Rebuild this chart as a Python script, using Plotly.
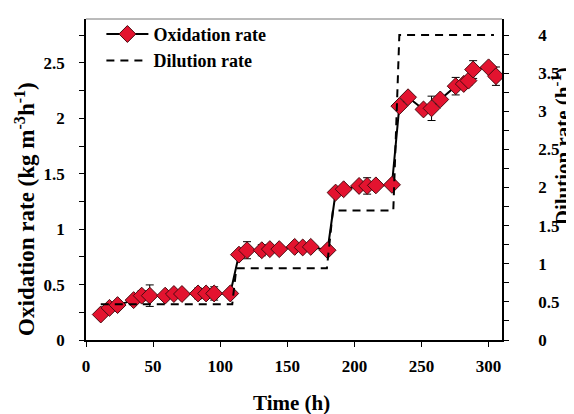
import plotly.graph_objects as go

# Oxidation rate data (kg m-3 h-1)
time_ox = [11, 17.5, 23.5, 35.5, 41.5, 47.5, 59, 65.5, 71.5, 83.5, 89.5, 95.5, 107.5,
           114, 120, 131, 137, 144, 155.5, 161.5, 167.5, 180,
           186, 192, 203.5, 209.5, 216, 228,
           233.5, 240, 251.5, 257.5, 264, 275.5, 281.5, 285, 288.5, 300, 305.5]
oxidation = [0.23, 0.29, 0.315, 0.36, 0.40, 0.40, 0.40, 0.415, 0.415, 0.42, 0.42, 0.42, 0.42,
             0.77, 0.81, 0.81, 0.82, 0.82, 0.84, 0.835, 0.84, 0.81,
             1.33, 1.36, 1.39, 1.39, 1.395, 1.40,
             2.11, 2.19, 2.08, 2.09, 2.17, 2.29, 2.31, 2.34, 2.44, 2.46, 2.38]
oxidation_err = [0.01, 0.035, 0.02, 0.035, 0.045, 0.097, 0.01, 0.01, 0.01, 0.048, 0.04, 0.06, 0.01,
                 0.01, 0.077, 0.05, 0.01, 0.01, 0.01, 0.01, 0.01, 0.01,
                 0.01, 0.01, 0.01, 0.074, 0.01, 0.01,
                 0.01, 0.03, 0.01, 0.11, 0.03, 0.079, 0.01, 0.04, 0.08, 0.01, 0.083]

# Dilution rate (h-1), step profile
time_dil = [11, 109, 112, 179.5, 184, 229, 233.5, 304]
dilution = [0.47, 0.47, 0.94, 0.94, 1.70, 1.70, 4.0, 4.0]

x_ticks = [0, 50, 100, 150, 200, 250, 300]

FONT = "Liberation Serif, Times New Roman, serif"

fig = go.Figure()

fig.add_trace(go.Scatter(
    x=time_dil, y=dilution, yaxis="y2", mode="lines", name="Dilution rate",
    line=dict(color="black", width=2, dash="8px,6px"),
))

fig.add_trace(go.Scatter(
    x=time_ox, y=oxidation, mode="lines+markers", name="Oxidation rate",
    line=dict(color="black", width=2),
    marker=dict(symbol="diamond", size=13, color="#e3132f",
                line=dict(color="#4a0a10", width=1)),
    error_y=dict(type="data", array=oxidation_err, visible=True,
                 color="black", thickness=1, width=4),
))

axis_common = dict(
    showgrid=False, zeroline=False, showline=True, linecolor="black", linewidth=1.5,
    ticks="outside", ticklen=5, tickcolor="black", tickwidth=1.2,
    tickfont=dict(family=FONT, size=17, color="black", weight="bold"),
)

fig.update_layout(
    width=566, height=406,
    margin=dict(l=78, r=72, t=8, b=74),
    paper_bgcolor="white", plot_bgcolor="white",
    font=dict(family=FONT, color="black", weight="bold"),
    showlegend=True,
    legend=dict(
        x=0.037, y=1.01, xanchor="left", yanchor="top",
        traceorder="reversed", itemwidth=42,
        font=dict(family=FONT, size=18, color="black", weight="bold"),
        bgcolor="rgba(0,0,0,0)", tracegroupgap=2,
    ),
    xaxis=dict(range=[0, 310], tickvals=x_ticks, ticklabelstandoff=5, **axis_common),
    yaxis=dict(range=[0, 2.896], dtick=0.5, tick0=0, ticklabelstandoff=11,
               minor=dict(ticks="outside", dtick=0.25, ticklen=5, tickcolor="black"),
               **axis_common),
    yaxis2=dict(range=[0, 4.21], dtick=0.5, tick0=0, overlaying="y", side="right",
                ticklabelstandoff=26,
                minor=dict(ticks="outside", dtick=0.25, ticklen=5, tickcolor="black"),
                **axis_common),
    shapes=[dict(type="line", xref="paper", yref="paper", x0=0, x1=1, y0=1, y1=1,
                 line=dict(color="#777777", width=1))],
    annotations=[
        dict(text="Oxidation rate (kg m<sup>-3</sup>h<sup>-1</sup>)", xref="paper", yref="paper",
             x=-0.147, y=0.408, textangle=-90, showarrow=False, xanchor="center", yanchor="middle",
             font=dict(family=FONT, size=23, color="black", weight="bold")),
        dict(text="Dilution rate (h<sup>-1</sup>)", xref="paper", yref="paper",
             x=1.143, y=0.605, textangle=-90, showarrow=False, xanchor="center", yanchor="middle",
             font=dict(family=FONT, size=21, color="black", weight="bold")),
        dict(text="Time (h)", xref="paper", yref="paper",
             x=0.493, y=-0.195, showarrow=False, xanchor="center", yanchor="middle",
             font=dict(family=FONT, size=21, color="black", weight="bold")),
    ],
)

fig.write_html("out.html")
